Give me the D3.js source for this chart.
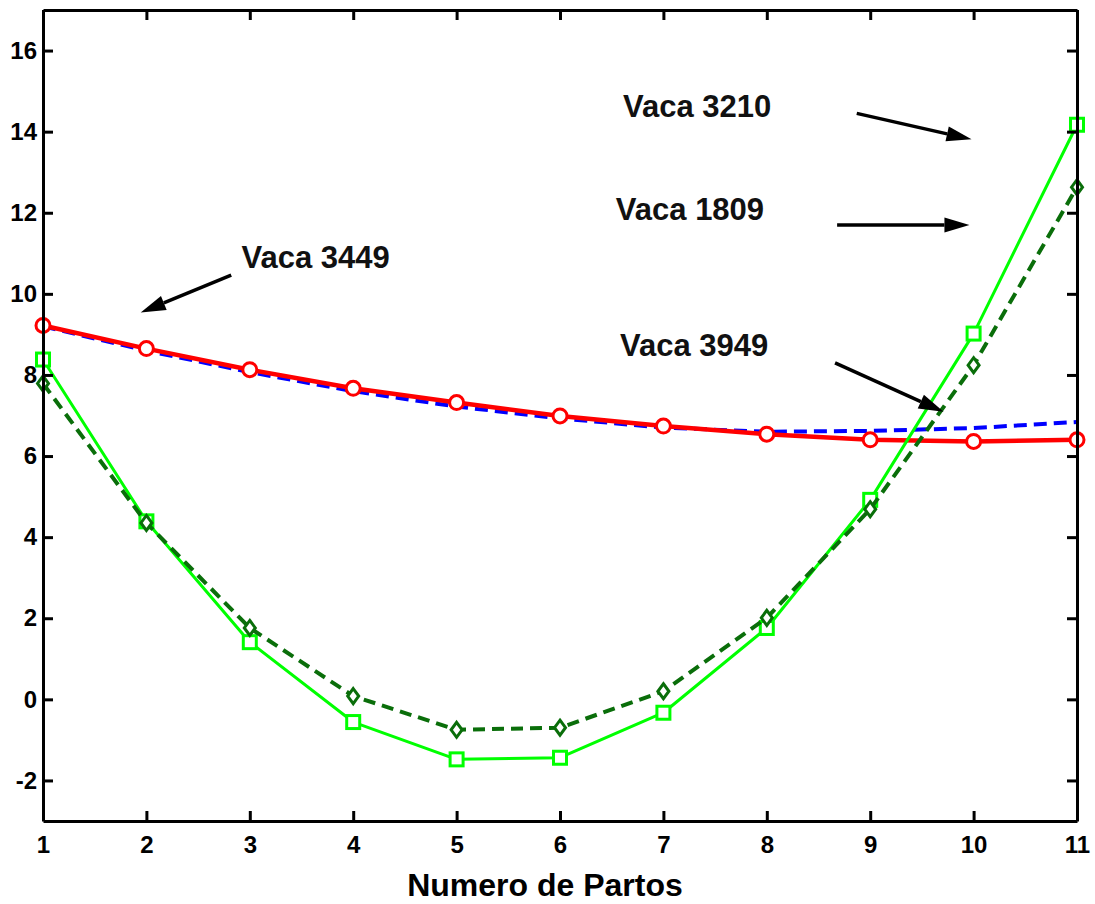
<!DOCTYPE html>
<html>
<head>
<meta charset="utf-8">
<script src="https://cdn.jsdelivr.net/npm/d3@7/dist/d3.min.js"></script>
<style>
  body { margin: 0; background: #fff; }
  svg { display: block; font-family: "Liberation Sans", Arial, Helvetica, sans-serif; }
</style>
</head>
<body>
<svg id="chart" width="1095" height="904"></svg>
<script>
// Parity number (Numero de Partos)
const partos = [1, 2, 3, 4, 5, 6, 7, 8, 9, 10, 11];

// Curves per cow
const vaca3449Azul = [9.20, 8.60, 8.07, 7.60, 7.22, 6.93, 6.70, 6.60, 6.62, 6.69, 6.84];
const vaca3449Roja = [9.22, 8.65, 8.13, 7.67, 7.32, 6.99, 6.74, 6.54, 6.40, 6.36, 6.40];
const vaca3210 = [8.38, 4.39, 1.41, -0.56, -1.48, -1.44, -0.33, 1.76, 4.92, 9.02, 14.17];
const vaca1809 = [7.79, 4.35, 1.76, 0.08, -0.75, -0.70, 0.20, 2.01, 4.69, 8.24, 12.63];

const xTicks = [1, 2, 3, 4, 5, 6, 7, 8, 9, 10, 11];
const yTicks = [-2, 0, 2, 4, 6, 8, 10, 12, 14, 16];

// Text annotations (data coordinates: left edge, baseline)
const notas = [
  { texto: "Vaca 3210", x: 6.61, y: 14.37 },
  { texto: "Vaca 1809", x: 6.54, y: 11.82 },
  { texto: "Vaca 3449", x: 2.92, y: 10.63 },
  { texto: "Vaca 3949", x: 6.58, y: 8.47 }
];
// Arrows (data coordinates: tail -> head)
const flechas = [
  { x0: 8.87, y0: 14.45, x1: 9.98, y1: 13.81 },
  { x0: 8.68, y0: 11.70, x1: 9.96, y1: 11.70 },
  { x0: 2.82, y0: 10.46, x1: 1.945, y1: 9.54 },
  { x0: 8.66, y0: 8.30, x1: 9.71, y1: 7.09 }
];

const svg = d3.select("#chart");
const plotLeft = 43, plotRight = 1077, plotTop = 10, plotBottom = 821;

const x = d3.scaleLinear().domain([1, 11]).range([plotLeft, plotRight]);
const y = d3.scaleLinear().domain([-3, 17]).range([plotBottom, plotTop]);

const line = d3.line().x((d, i) => x(partos[i])).y(d => y(d));

// Series lines
function serie(values, color, width, dash) {
  svg.append("path")
    .datum(values)
    .attr("d", line)
    .attr("fill", "none")
    .attr("stroke", color)
    .attr("stroke-width", width)
    .attr("stroke-linejoin", "round")
    .attr("stroke-dasharray", dash || null);
}

const verdeClaro = "#00ff00";
const verdeOscuro = "#0a6e0a";

serie(vaca3449Azul, "#0000ff", 4, "13,7");
serie(vaca3449Roja, "#ff0000", 4.5);
svg.selectAll(".circ").data(vaca3449Roja).enter().append("circle")
  .attr("cx", (d, i) => x(partos[i])).attr("cy", d => y(d)).attr("r", 7)
  .attr("fill", "#fff").attr("stroke", "#ff0000").attr("stroke-width", 3);

serie(vaca3210, verdeClaro, 3);
svg.selectAll(".sq").data(vaca3210).enter().append("rect")
  .attr("x", (d, i) => x(partos[i]) - 6.5).attr("y", d => y(d) - 6.5)
  .attr("width", 13).attr("height", 13)
  .attr("fill", "#fff").attr("stroke", verdeClaro).attr("stroke-width", 3);

serie(vaca1809, verdeOscuro, 4, "12,7");
svg.selectAll(".dia").data(vaca1809).enter().append("path")
  .attr("transform", (d, i) => `translate(${x(partos[i])},${y(d)})`)
  .attr("d", "M0,-7.5L5.5,0L0,7.5L-5.5,0Z")
  .attr("fill", "#fff").attr("stroke", verdeOscuro).attr("stroke-width", 3);

// Axes box with inward ticks
const axisStyle = g => {
  g.select(".domain").attr("stroke", "#000").attr("stroke-width", 3);
  g.selectAll(".tick line").attr("stroke", "#000").attr("stroke-width", 3);
  g.selectAll(".tick text").attr("fill", "#000").attr("font-size", 24).attr("font-weight", "bold")
    .attr("font-family", "'Liberation Sans', Arial, sans-serif");
};
const fmt = d => String(d);

svg.append("g").attr("transform", `translate(0,${plotBottom})`)
  .call(d3.axisBottom(x).tickValues(xTicks).tickSizeInner(-10).tickSizeOuter(0).tickPadding(15).tickFormat(fmt))
  .call(axisStyle);
svg.append("g").attr("transform", `translate(0,${plotTop})`)
  .call(d3.axisTop(x).tickValues(xTicks).tickSizeInner(-10).tickSizeOuter(0).tickFormat(""))
  .call(axisStyle);
svg.append("g").attr("transform", `translate(${plotLeft},0)`)
  .call(d3.axisLeft(y).tickValues(yTicks).tickSizeInner(-10).tickSizeOuter(0).tickPadding(6).tickFormat(fmt))
  .call(axisStyle);
svg.append("g").attr("transform", `translate(${plotRight},0)`)
  .call(d3.axisRight(y).tickValues(yTicks).tickSizeInner(-10).tickSizeOuter(0).tickFormat(""))
  .call(axisStyle);

// Axis title
svg.append("text")
  .attr("x", (plotLeft + plotRight) / 2 - 15).attr("y", 896)
  .attr("text-anchor", "middle")
  .attr("font-size", 32).attr("font-weight", "bold")
  .text("Numero de Partos");

// Annotations
svg.selectAll(".nota").data(notas).enter().append("text")
  .attr("x", d => x(d.x)).attr("y", d => y(d.y))
  .attr("font-size", 31).attr("font-weight", "bold").attr("fill", "#111")
  .text(d => d.texto);

flechas.forEach(f => {
  const x0 = x(f.x0), y0 = y(f.y0), x1 = x(f.x1), y1 = y(f.y1);
  const ang = Math.atan2(y1 - y0, x1 - x0);
  const len = 25, hw = 7.5;
  const bx = x1 - len * Math.cos(ang), by = y1 - len * Math.sin(ang);
  svg.append("line")
    .attr("x1", x0).attr("y1", y0).attr("x2", bx).attr("y2", by)
    .attr("stroke", "#000").attr("stroke-width", 3.5);
  const px = -Math.sin(ang) * hw, py = Math.cos(ang) * hw;
  svg.append("path")
    .attr("d", `M${x1},${y1}L${bx + px},${by + py}L${bx - px},${by - py}Z`)
    .attr("fill", "#000");
});
</script>
</body>
</html>
